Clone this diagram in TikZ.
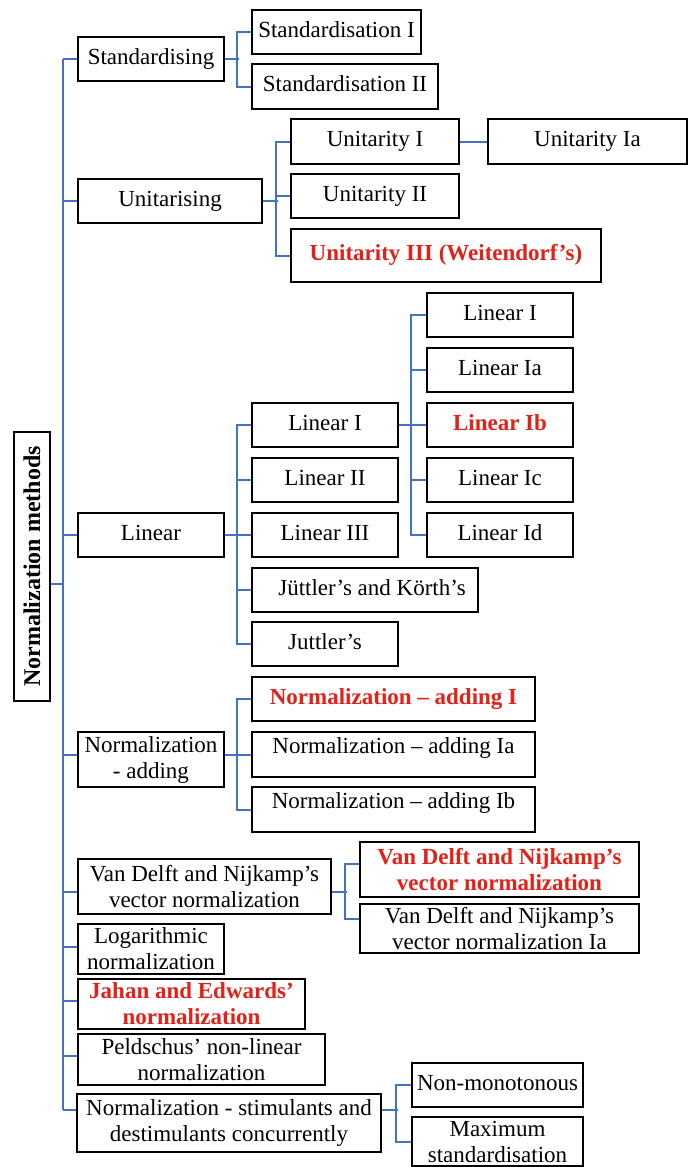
\documentclass[tikz,border=0pt]{standalone}
\usepackage{fontspec}
\setmainfont{Liberation Serif}
\definecolor{conncol}{HTML}{4472C4}
\definecolor{redtxt}{HTML}{E32119}
\begin{document}
\begin{tikzpicture}[x=1pt,y=-1pt,
  box/.style={draw=black, line width=2.3pt, rectangle, inner sep=2pt,
    font=\fontsize{23}{26}\selectfont, text height=15pt, text depth=5pt, align=center},
  box2/.style={draw=black, line width=2.3pt, rectangle, inner sep=2pt,
    font=\fontsize{23}{26}\selectfont, align=center},
  hl/.style={text=redtxt, font=\fontsize{23}{26}\selectfont\bfseries},
  conn/.style={draw=conncol, line width=2pt},
  sz/.style 2 args={minimum width=#1pt, minimum height=#2pt}
]
\useasboundingbox (0,0) rectangle (689,1167);
\fill[white] (0,0) rectangle (689,1167);

% root
\node[box2, sz={36}{269}, font=\fontsize{24}{26}\selectfont\bfseries] (title) at (32,566.5) {\rotatebox{90}{Normalization methods}};

% level 1
\node[box, sz={146}{44}] (std) at (151,59) {Standardising};
\node[box, sz={184}{44}] (uni) at (170,201) {Unitarising};
\node[box, sz={146}{44}] (lin) at (151,535) {Linear};
\node[box2, sz={146}{55}] (add) at (151,759.5) {Normalization\\- adding};
\node[box2, sz={253}{55}] (vd) at (204.5,886.5) {Van Delft and Nijkamp’s\\vector normalization};
\node[box2, sz={146}{50}] (log) at (151,949) {Logarithmic\\normalization};
\node[box2, sz={227}{50}, hl] (jahan) at (191.5,1004) {Jahan and Edwards’\\normalization};
\node[box2, sz={247}{51}] (peld) at (201.5,1059.5) {Peldschus’ non-linear\\normalization};
\node[box2, sz={304}{58}] (stim) at (229,1123) {Normalization - stimulants and\\destimulants concurrently};

% standardising children
\node[box, sz={169}{44}] (std1) at (336.5,32) {Standardisation I};
\node[box, sz={186}{45}] (std2) at (345,86.5) {Standardisation II};

% unitarising children
\node[box, sz={168}{45}] (uni1) at (375,141.5) {Unitarity I};
\node[box, sz={199}{45}] (uni1a) at (587.5,141.5) {Unitarity Ia};
\node[box, sz={168}{44}] (uni2) at (375,196) {Unitarity II};
\node[box, sz={310}{53}, hl] (uni3) at (446,255.5) {Unitarity III (Weitendorf’s)};

% linear children
\node[box, sz={146}{44}] (linI) at (325,425) {Linear I};
\node[box, sz={146}{44}] (linII) at (325,480) {Linear II};
\node[box, sz={146}{44}] (linIII) at (325,535) {Linear III};
\node[box, sz={226}{44}] (jk) at (365,590) {\hspace*{14pt}Jüttler’s and Körth’s};
\node[box, sz={146}{44}] (ju) at (325,644) {Juttler’s};

\node[box, sz={146}{44}] (lI) at (500,315) {Linear I};
\node[box, sz={146}{44}] (lIa) at (500,370) {Linear Ia};
\node[box, sz={146}{44}, hl] (lIb) at (500,425) {Linear Ib};
\node[box, sz={146}{44}] (lIc) at (500,480) {Linear Ic};
\node[box, sz={146}{44}] (lId) at (500,535) {Linear Id};

% adding children
\node[box, sz={283}{44}, hl] (addI) at (393.5,699) {Normalization – adding I};
\node[box, sz={283}{45}, text depth=18pt] (addIa) at (393.5,754.5) {Normalization – adding Ia};
\node[box, sz={283}{45}, text depth=18pt] (addIb) at (393.5,809.5) {Normalization – adding Ib};

% van delft children
\node[box2, sz={279}{55}, hl] (vdR) at (499.5,869.5) {Van Delft and Nijkamp’s\\vector normalization};
\node[box2, sz={279}{49}] (vdIa) at (499.5,928.5) {Van Delft and Nijkamp’s\\vector normalization Ia};

% stimulants children
\node[box, sz={171}{44}] (nonmono) at (497.5,1085) {Non-monotonous};
\node[box2, sz={171}{49}] (maxstd) at (497.5,1141.5) {Maximum\\standardisation};

% trunk
\draw[conn] (std.west) -- ++(-14,0) coordinate (tkTop);
\draw[conn] ([yshift=13pt]stim.west) -- ++(-13,0) coordinate (tkBot);
\draw[conn] (tkTop) -- (tkBot);
\draw[conn] ([yshift=-17.5pt]title.east) -- ([yshift=-17.5pt]title.east -| tkTop);
\draw[conn] (uni.west) -- (uni.west -| tkTop);
\draw[conn] (lin.west) -- (lin.west -| tkTop);
\draw[conn] ([yshift=4.5pt]add.west) -- ([yshift=4.5pt]add.west -| tkTop);
\draw[conn] ([yshift=-5.5pt]vd.west) -- ([yshift=-5.5pt]vd.west -| tkTop);
\draw[conn] ([yshift=2pt]log.west) -- ([yshift=2pt]log.west -| tkTop);
\draw[conn] ([yshift=3pt]jahan.west) -- ([yshift=3pt]jahan.west -| tkTop);
\draw[conn] ([yshift=3.5pt]peld.west) -- ([yshift=3.5pt]peld.west -| tkTop);

% standardising
\draw[conn] (std.east) -- ++(14,0);
\draw[conn] (std1.west) -- ++(-14,0) |- (std2.west);

% unitarising
\draw[conn] (uni.east) -- ++(15,0);
\draw[conn] (uni1.west) -- ++(-14,0) |- (uni3.west);
\draw[conn] (uni2.west) -- ++(-14,0);
\draw[conn] (uni1.east) -- (uni1a.west);

% linear
\draw[conn] (lin.east) -- ++(14,0);
\draw[conn] (linI.west) -- ++(-14,0) |- (ju.west);
\draw[conn] (linII.west) -- ++(-14,0);
\draw[conn] (linIII.west) -- ++(-14,0);
\draw[conn] (jk.west) -- ++(-14,0);
\draw[conn] (linI.east) -- ++(14,0);
\draw[conn] (lI.west) -- ++(-15,0) |- (lId.west);
\draw[conn] (lIa.west) -- ++(-15,0);
\draw[conn] (lIb.west) -- ++(-15,0);
\draw[conn] (lIc.west) -- ++(-15,0);

% adding
\draw[conn] ([yshift=4.5pt]add.east) -- ++(14,0);
\draw[conn] (addI.west) -- ++(-14,0) |- (addIb.west);
\draw[conn] (addIa.west) -- ++(-14,0);

% van delft
\draw[conn] ([yshift=-5.5pt]vd.east) -- ++(15,0);
\draw[conn] ([yshift=5.5pt]vdR.west) -- ++(-14,0) |- ([yshift=9.5pt]vdIa.west);

% stimulants
\draw[conn] ([yshift=13pt]stim.east) -- ++(16,0);
\draw[conn] (nonmono.west) -- ++(-15,0) |- (maxstd.west);
\end{tikzpicture}
\end{document}
